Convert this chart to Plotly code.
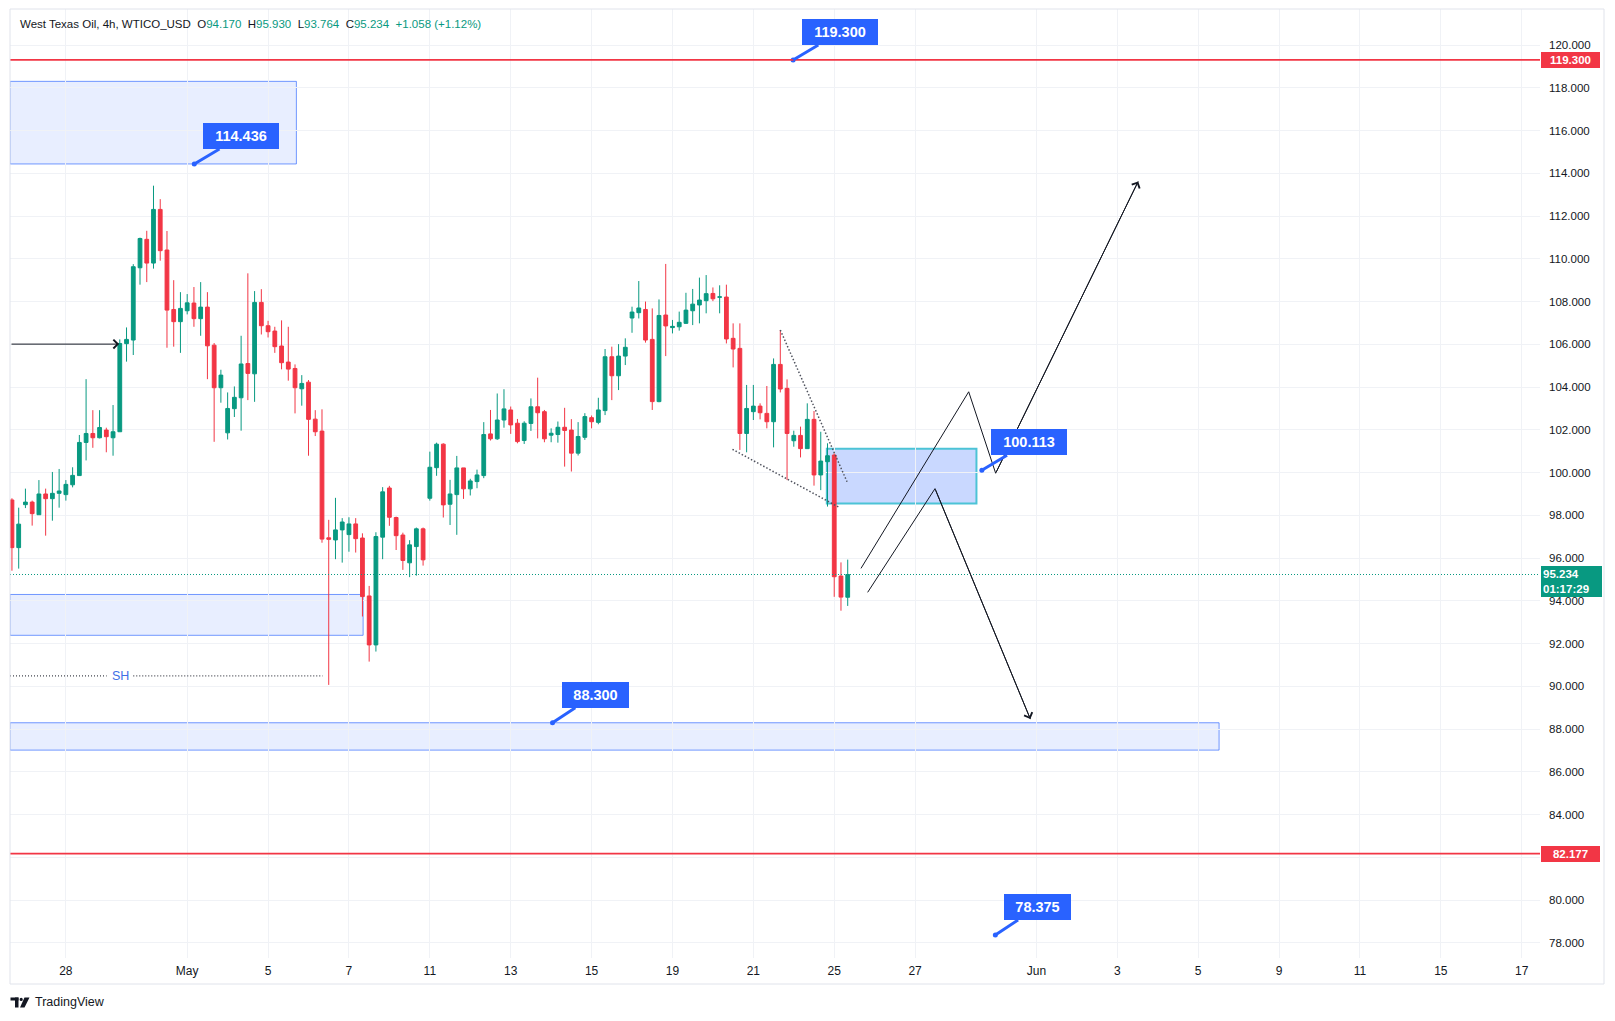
import plotly.graph_objects as go

# ---------------- data ----------------
BAR_INDEX = list(range(-8, 117))  # 4h bars, 0 = first bar of 28 Apr
OPEN = [98.72, 96.49, 98.50, 98.62, 98.03, 99.00, 98.78, 99.03,
        98.97, 99.43, 99.86, 101.41, 101.83, 101.63, 101.99, 101.63, 101.91, 106.03,
        106.20, 109.58, 110.91, 109.80, 112.31, 110.41, 107.63, 107.06, 107.57, 107.93,
        107.20, 107.74, 105.96, 103.97, 101.86, 102.99, 103.50, 105.10, 104.62, 107.96,
        106.87, 106.62, 105.92, 105.17, 104.87, 103.92, 104.23, 102.50, 101.94, 96.95,
        96.85, 97.32, 97.10, 97.60, 96.94, 94.23, 91.94, 96.98, 99.28, 97.90,
        97.08, 95.78, 96.54, 97.37, 98.80, 100.23, 101.33, 98.52, 98.97, 100.22,
        99.24, 99.58, 99.86, 101.81, 101.58, 102.46, 102.93, 102.31, 101.50, 102.30,
        103.08, 102.85, 101.75, 101.78, 102.12, 101.99, 100.91, 101.65, 102.57, 102.35,
        102.90, 105.42, 104.53, 105.45, 107.23, 107.48, 107.63, 106.23, 103.32, 107.37,
        106.78, 106.82, 106.98, 107.57, 107.84, 108.04, 108.38, 108.20, 108.21, 106.28,
        105.81, 101.83, 102.85, 103.11, 102.77, 102.38, 105.06, 103.94, 101.49, 101.74,
        101.12, 102.49, 99.89, 100.51, 100.82, 95.16, 94.170]
HIGH = [98.80, 98.36, 99.25, 98.69, 99.65, 99.25, 100.03, 100.17,
        99.65, 100.25, 101.76, 104.37, 102.92, 102.92, 102.10, 103.16, 106.23, 106.79,
        109.75, 110.99, 111.31, 113.42, 112.79, 111.30, 109.00, 108.44, 108.35, 108.68,
        108.91, 108.44, 106.06, 104.81, 103.75, 104.03, 106.40, 109.32, 108.49, 108.58,
        107.10, 106.82, 107.12, 106.82, 105.06, 104.56, 104.33, 102.92, 102.96, 97.79,
        98.82, 97.87, 97.91, 97.87, 97.16, 94.70, 97.21, 99.32, 99.38, 97.94,
        97.19, 96.84, 97.43, 97.43, 100.98, 101.40, 101.37, 99.66, 100.78, 100.22,
        99.71, 100.14, 102.36, 102.93, 103.70, 103.90, 103.09, 102.51, 102.40, 103.47,
        104.44, 102.93, 102.07, 102.39, 103.03, 102.50, 102.36, 102.78, 102.67, 103.50,
        105.78, 105.89, 106.01, 106.28, 107.76, 108.96, 108.00, 107.68, 108.10, 109.76,
        107.14, 107.53, 108.41, 108.59, 109.12, 109.24, 108.66, 108.76, 108.79, 106.98,
        106.98, 104.10, 104.10, 103.24, 104.05, 105.34, 106.67, 104.36, 101.96, 102.15,
        103.24, 102.88, 101.91, 101.37, 100.90, 95.80, 95.930]
LOW = [95.41, 95.51, 98.34, 97.52, 98.03, 97.05, 97.75, 98.36,
       98.69, 99.31, 99.86, 100.57, 101.16, 101.60, 100.95, 100.79, 101.91, 105.19,
       105.50, 108.79, 108.91, 109.54, 109.91, 105.84, 105.89, 105.60, 107.40, 106.82,
       106.40, 104.37, 101.44, 103.27, 101.55, 102.60, 101.96, 103.39, 103.31, 106.46,
       106.32, 105.60, 104.83, 104.30, 102.77, 103.13, 100.79, 101.71, 96.72, 90.07,
       95.95, 95.79, 96.30, 96.26, 93.27, 91.16, 91.63, 95.95, 97.51, 96.38,
       95.45, 95.11, 95.18, 95.65, 98.69, 99.85, 97.90, 97.55, 97.09, 98.77,
       98.93, 99.27, 99.74, 101.50, 101.53, 102.10, 101.81, 101.37, 101.34, 101.95,
       101.60, 101.42, 101.42, 101.40, 100.28, 100.05, 100.80, 101.53, 102.07, 102.26,
       102.69, 103.39, 103.86, 105.03, 106.54, 107.21, 106.08, 102.93, 103.29, 105.45,
       106.51, 106.64, 106.95, 106.90, 106.98, 107.45, 108.02, 107.45, 106.04, 104.92,
       101.06, 100.95, 102.46, 102.49, 102.07, 101.18, 103.75, 99.65, 101.21, 100.71,
       101.12, 99.39, 99.18, 98.41, 94.19, 93.54, 93.764]
CLOSE = [96.49, 97.59, 98.62, 98.08, 99.00, 98.78, 99.03, 99.14,
         99.45, 99.87, 101.41, 101.83, 101.63, 102.11, 101.68, 101.91, 106.04, 106.23,
         109.63, 110.95, 109.80, 112.31, 110.38, 107.60, 107.06, 107.68, 107.94, 107.20,
         107.74, 105.93, 103.97, 104.56, 103.00, 103.52, 105.08, 104.64, 107.96, 106.87,
         106.59, 105.89, 105.14, 104.84, 103.97, 104.17, 102.49, 101.91, 96.89, 96.88,
         97.32, 97.69, 97.60, 96.91, 94.20, 91.94, 97.01, 99.10, 97.91, 97.05,
         95.89, 96.62, 97.37, 95.92, 100.25, 101.33, 98.49, 99.00, 100.22, 99.24,
         99.61, 99.89, 101.78, 101.58, 102.46, 102.98, 102.23, 101.45, 102.31, 103.08,
         102.80, 101.58, 101.84, 102.12, 101.97, 100.91, 101.69, 102.62, 102.38, 102.93,
         105.42, 104.53, 105.45, 105.86, 107.51, 107.70, 106.20, 103.32, 107.35, 106.86,
         106.84, 107.03, 107.60, 107.88, 108.07, 108.37, 108.13, 108.22, 106.25, 105.78,
         101.83, 103.00, 103.11, 102.80, 102.38, 105.06, 103.91, 101.83, 101.74, 101.12,
         102.49, 99.89, 100.54, 100.79, 95.13, 94.176, 95.234]

DAY_TICK_BARS = [0, 18, 30, 42, 54, 66, 78, 90, 102, 114, 126, 144, 156, 168, 180, 192, 204, 216]
DAY_TICK_LABELS = ["28", "May", "5", "7", "11", "13", "15", "19", "21", "25", "27",
                   "Jun", "3", "5", "9", "11", "15", "17"]
PRICE_TICKS = [78, 80, 82, 84, 86, 88, 90, 92, 94, 96, 98, 100, 102, 104, 106, 108,
               110, 112, 114, 116, 118, 120]
HIDDEN_PRICE_TICKS = [82]  # covered by the 82.177 level label in the reference
PRICE_TICK_LABELS = ["" if p in HIDDEN_PRICE_TICKS else f"{p:.3f}" for p in PRICE_TICKS]

RESISTANCE = 119.300
SUPPORT = 82.177
LAST_PRICE = 95.234
COUNTDOWN = "01:17:29"

# zones: right end (bar) and price bounds
UPPER_ZONE = dict(bar_end=34.2, low=114.436, high=118.30)
MIDDLE_ZONE = dict(bar_end=44.1, low=92.39, high=94.30)
LOWER_ZONE = dict(bar_end=171.1, low=87.02, high=88.300)
CYAN_ZONE = dict(bar_start=112.9, bar_end=135.1, low=98.55, high=101.12)

CALLOUT_TEXT = ["114.436", "119.300", "88.300", "100.113", "78.375"]
CALLOUT_BAR = [19.05, 107.9, 72.2, 135.9, 137.9]
CALLOUT_PRICE = [114.436, 119.300, 88.300, 100.113, 78.375]

UP_PATH_BARS = [117.97, 133.95, 137.95, 159.1]
UP_PATH_PRICES = [95.52, 103.78, 99.97, 113.62]
DOWN_PATH_BARS = [118.96, 128.95, 143.1]
DOWN_PATH_PRICES = [94.40, 99.25, 88.47]
WEDGE_UPPER_BARS = [106.0, 115.9]
WEDGE_UPPER_PRICES = [106.67, 99.57]
WEDGE_LOWER_BARS = [98.9, 114.7]
WEDGE_LOWER_PRICES = [101.09, 98.38]
ARROW_LEVEL = 106.01
ARROW_END_BAR = 7.9
SH_LEVEL = 90.49
SH_TEXT_BAR = 8.1
SH_LINE_BARS = [6.05, 10.0, 38.1]

HEADER_NAME = "West Texas Oil, 4h, WTICO_USD"
HEADER_OHLC = [("O", "94.170"), ("H", "95.930"), ("L", "93.764"), ("C", "95.234")]
HEADER_CHANGE = "+1.058 (+1.12%)"

# ---------------- style ----------------
UP = "#089981"
DOWN = "#F23645"
BLUE = "#2962FF"
TEXT = "#131722"
GRID = "#F0F2F6"
FONT = "Liberation Sans"

W, H = 1615, 1021
PL, PT, PW, PH = 10, 9, 1530, 949
X_RANGE = [-8.29, -8.29 + PW / 6.74]
Y_RANGE = [120 - (PT + PH - 45) / 21.38, 120 + (45 - PT) / 21.38]


def pxx(x):
    return (x - PL) / PW


def pxy(y):
    return (PT + PH - y) / PH


fig = go.Figure()

fig.add_trace(go.Candlestick(
    x=BAR_INDEX, open=OPEN, high=HIGH, low=LOW, close=CLOSE,
    increasing=dict(line=dict(color=UP, width=1), fillcolor=UP),
    decreasing=dict(line=dict(color=DOWN, width=1), fillcolor=DOWN),
    whiskerwidth=0, showlegend=False, hoverinfo="skip"))

shapes = []
zone_fill = "rgba(41,98,255,0.11)"
zone_line = "rgba(41,98,255,0.65)"
for z in (UPPER_ZONE, MIDDLE_ZONE, LOWER_ZONE):
    shapes.append(dict(type="rect", xref="x", yref="y", x0=X_RANGE[0], x1=z["bar_end"],
                       y0=z["low"], y1=z["high"], fillcolor=zone_fill,
                       line=dict(color=zone_line, width=1), layer="below"))
shapes.append(dict(type="rect", xref="x", yref="y", x0=CYAN_ZONE["bar_start"],
                   x1=CYAN_ZONE["bar_end"], y0=CYAN_ZONE["low"], y1=CYAN_ZONE["high"],
                   fillcolor="rgba(41,98,255,0.25)", line=dict(color="#4CC3D6", width=2),
                   layer="below"))
# horizontal levels
for lvl in (RESISTANCE, SUPPORT):
    shapes.append(dict(type="line", xref="paper", yref="y", x0=0, x1=1, y0=lvl, y1=lvl,
                       line=dict(color=DOWN, width=1.8)))
shapes.append(dict(type="line", xref="paper", yref="y", x0=0, x1=1, y0=LAST_PRICE,
                   y1=LAST_PRICE, line=dict(color=UP, width=1, dash="1px,2px")))
# chart frame
shapes.append(dict(type="rect", xref="paper", yref="paper", x0=pxx(10), x1=pxx(1604),
                   y0=pxy(984), y1=pxy(9), line=dict(color="#E0E3EB", width=1)))
# TradingView logo
shapes += [
    dict(type="rect", xref="paper", yref="paper", x0=pxx(10.5), x1=pxx(18.5),
         y0=pxy(1000.5), y1=pxy(997.5), fillcolor=TEXT, line=dict(width=0)),
    dict(type="rect", xref="paper", yref="paper", x0=pxx(15), x1=pxx(18.5),
         y0=pxy(1007.5), y1=pxy(997.5), fillcolor=TEXT, line=dict(width=0)),
    dict(type="circle", xref="paper", yref="paper", x0=pxx(19.6), x1=pxx(22.8),
         y0=pxy(1001), y1=pxy(997.8), fillcolor=TEXT, line=dict(width=0)),
    dict(type="path", xref="paper", yref="paper",
         path=f"M{pxx(24.5)},{pxy(997.5)} L{pxx(29.5)},{pxy(997.5)} "
              f"L{pxx(24.5)},{pxy(1007.5)} L{pxx(20)},{pxy(1007.5)} Z",
         fillcolor=TEXT, line=dict(width=0)),
]

# SH dotted line (with gap for the label)
fig.add_trace(go.Scatter(x=[X_RANGE[0], SH_LINE_BARS[0], None, SH_LINE_BARS[1], SH_LINE_BARS[2]],
                         y=[SH_LEVEL, SH_LEVEL, None, SH_LEVEL, SH_LEVEL], mode="lines",
                         line=dict(color=TEXT, width=1, dash="1px,2px"), hoverinfo="skip",
                         showlegend=False))
# wedge lines
for bx, py in ((WEDGE_UPPER_BARS, WEDGE_UPPER_PRICES), (WEDGE_LOWER_BARS, WEDGE_LOWER_PRICES)):
    fig.add_trace(go.Scatter(x=bx, y=py, mode="lines",
                             line=dict(color="#50535E", width=1.5, dash="1.5px,2px"),
                             hoverinfo="skip", showlegend=False))
# projected paths
for bx, py in ((UP_PATH_BARS, UP_PATH_PRICES), (DOWN_PATH_BARS, DOWN_PATH_PRICES)):
    fig.add_trace(go.Scatter(x=bx, y=py, mode="lines", line=dict(color=TEXT, width=1),
                             hoverinfo="skip", showlegend=False))
# callout anchor dots
fig.add_trace(go.Scatter(x=CALLOUT_BAR, y=CALLOUT_PRICE, mode="markers",
                         marker=dict(color=BLUE, size=5), hoverinfo="skip",
                         showlegend=False, cliponaxis=False))

ann = []
# arrowheads
ann.append(dict(x=ARROW_END_BAR, y=ARROW_LEVEL, ax=X_RANGE[0], ay=ARROW_LEVEL, xref="x",
                yref="y", axref="x", ayref="y", showarrow=True, arrowhead=4, arrowsize=1.7,
                arrowwidth=1, arrowcolor=TEXT, text=""))
for bx, py in ((UP_PATH_BARS, UP_PATH_PRICES), (DOWN_PATH_BARS, DOWN_PATH_PRICES)):
    ann.append(dict(x=bx[-1], y=py[-1], ax=bx[-2], ay=py[-2], xref="x", yref="y",
                    axref="x", ayref="y", showarrow=True, arrowhead=4, arrowsize=1.7,
                    arrowwidth=1, arrowcolor=TEXT, text=""))
# callouts
for t, bx, py in zip(CALLOUT_TEXT, CALLOUT_BAR, CALLOUT_PRICE):
    bw = 76 if len(t) >= 7 else 67
    ann.append(dict(x=bx, y=py, xref="x", yref="y", text=f"<b>{t}</b>", showarrow=True,
                    ax=9 + bw / 2, ay=-28, arrowhead=0, arrowwidth=3, arrowcolor=BLUE,
                    standoff=0, bgcolor=BLUE, borderwidth=0, borderpad=3,
                    width=bw - 6, height=20,
                    font=dict(family=FONT, size=14.5, color="white")))
# SH label
ann.append(dict(x=SH_TEXT_BAR, y=SH_LEVEL, xref="x", yref="y", text="SH", showarrow=False,
                font=dict(family=FONT, size=12.5, color="#3F6FE6")))
# price-axis labels
for lvl in (RESISTANCE, SUPPORT):
    ann.append(dict(x=1, y=lvl, xref="paper", yref="y", xanchor="left", yanchor="middle",
                    xshift=1, text=f"<b>{lvl:.3f}</b>", showarrow=False, bgcolor=DOWN,
                    borderwidth=0, borderpad=2, width=55, height=12, align="center",
                    font=dict(family=FONT, size=11.5, color="white")))
ann.append(dict(x=1, y=LAST_PRICE, xref="paper", yref="y", xanchor="left", yanchor="top",
                xshift=1, yshift=9, text=f"<b>{LAST_PRICE:.3f}</b><br><b>{COUNTDOWN}</b>",
                showarrow=False, bgcolor=UP, borderwidth=0, borderpad=2, width=57,
                height=27, align="left", font=dict(family=FONT, size=11.5, color="white")))
# header
nb = "\u00a0"
parts = [HEADER_NAME]
for k, v in HEADER_OHLC:
    parts.append(f"{k}<span style='color:{UP}'>{v}</span>")
parts.append(f"<span style='color:{UP}'>{HEADER_CHANGE}</span>")
ann.append(dict(x=pxx(17.5), y=pxy(24), xref="paper", yref="paper", xanchor="left",
                yanchor="middle", text=(nb * 2).join(parts), showarrow=False,
                font=dict(family=FONT, size=11.5, color=TEXT)))
# logo text
ann.append(dict(x=pxx(33), y=pxy(1002), xref="paper", yref="paper", xanchor="left",
                yanchor="middle", text="TradingView", showarrow=False,
                font=dict(family=FONT, size=12.5, color=TEXT)))

fig.update_layout(
    width=W, height=H, margin=dict(l=PL, r=W - PL - PW, t=PT, b=H - PT - PH),
    paper_bgcolor="white", plot_bgcolor="white", showlegend=False, hovermode=False,
    font=dict(family=FONT, size=11.5, color=TEXT), boxgap=0.2,
    shapes=shapes, annotations=ann)
fig.update_xaxes(range=X_RANGE, tickmode="array", tickvals=DAY_TICK_BARS,
                 ticktext=DAY_TICK_LABELS, showgrid=True, gridcolor=GRID, gridwidth=1,
                 zeroline=False, showline=False, ticks="", rangeslider_visible=False,
                 tickfont=dict(family=FONT, size=12, color=TEXT), ticklabelstandoff=4,
                 fixedrange=True)
fig.update_yaxes(range=Y_RANGE, side="right", tickmode="array", tickvals=PRICE_TICKS,
                 ticktext=PRICE_TICK_LABELS, showgrid=True, gridcolor=GRID, gridwidth=1,
                 zeroline=False, showline=False, ticks="", ticklabelstandoff=8,
                 tickfont=dict(family=FONT, size=11.5, color=TEXT), fixedrange=True)

fig.write_html("out.html")
